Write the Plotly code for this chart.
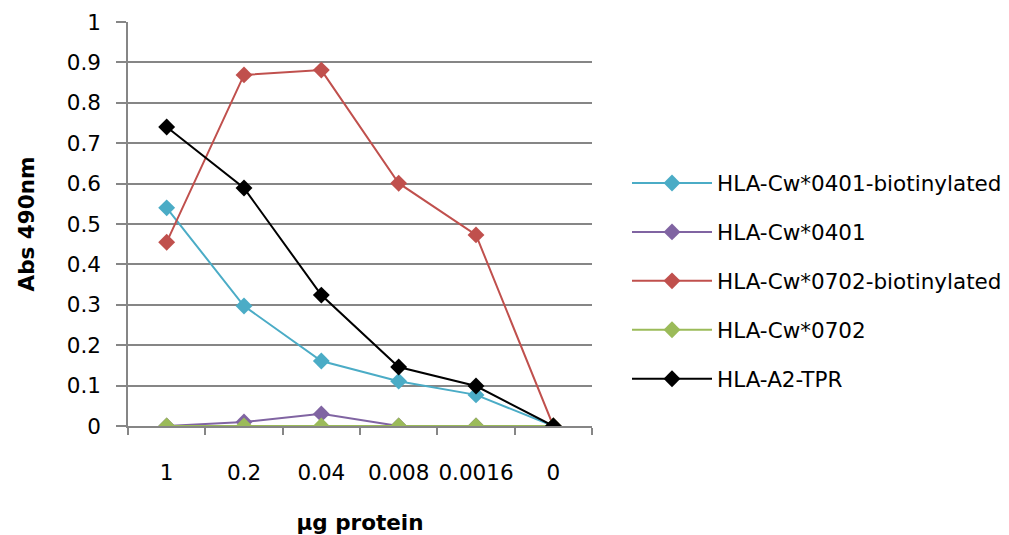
import plotly.graph_objects as go

doses = ["1", "0.2", "0.04", "0.008", "0.0016", "0"]

cw0401_biot = [0.54, 0.297, 0.161, 0.111, 0.077, 0.0]
cw0401 = [0.0, 0.01, 0.03, 0.0, 0.0, 0.0]
cw0702_biot = [0.455, 0.869, 0.881, 0.601, 0.473, 0.0]
cw0702 = [0.0, 0.0, 0.0, 0.0, 0.0, 0.0]
a2_tpr = [0.74, 0.589, 0.324, 0.146, 0.099, 0.0]

series = [
    ("HLA-Cw*0401-biotinylated", cw0401_biot, "#4bacc6"),
    ("HLA-Cw*0401", cw0401, "#8064a2"),
    ("HLA-Cw*0702-biotinylated", cw0702_biot, "#c0504d"),
    ("HLA-Cw*0702", cw0702, "#9bbb59"),
    ("HLA-A2-TPR", a2_tpr, "#000000"),
]

FONT = "'DejaVu Sans', sans-serif"
FS = 21.5

fig = go.Figure()
for i, (name, vals, color) in enumerate(series):
    fig.add_trace(go.Scatter(
        x=doses, y=vals, name=name, mode="lines+markers",
        line=dict(color=color, width=2),
        marker=dict(symbol="diamond", size=13, color=color),
        legendgroup=f"g{i}",
    ))

fig.update_layout(
    width=1009, height=535,
    margin=dict(l=128, r=417, t=22, b=109, autoexpand=False),
    paper_bgcolor="white", plot_bgcolor="white",
    font=dict(family=FONT, size=FS, color="#000000"),
    showlegend=True,
    legend=dict(
        xref="container", x=627 / 1009, y=0.359,
        xanchor="left", yanchor="middle",
        font=dict(family=FONT, size=FS, color="#000000"),
        tracegroupgap=18, itemwidth=80,
        bgcolor="rgba(0,0,0,0)",
    ),
    xaxis=dict(
        type="category", categoryorder="array", categoryarray=doses,
        range=[-0.5, 5.5], automargin=False, tickangle=0,
        showline=True, linecolor="#868686", linewidth=1.5,
        ticks="outside", tickson="boundaries", ticklen=7,
        tickcolor="#868686", tickwidth=1.5,
        showgrid=False, zeroline=False,
        tickfont=dict(family=FONT, size=FS),
        ticklabelstandoff=26,
        title=dict(text="<b>µg protein</b>", standoff=32,
                   font=dict(family=FONT, size=FS)),
    ),
    yaxis=dict(
        range=[0, 1], dtick=0.1, tickformat="~g", automargin=False,
        showline=True, linecolor="#868686", linewidth=1.5,
        ticks="outside", ticklen=10, tickcolor="#868686", tickwidth=1.5,
        showgrid=True, gridcolor="#868686", gridwidth=1.5,
        zeroline=False,
        tickfont=dict(family=FONT, size=FS),
        ticklabelstandoff=11,
        title=dict(text="<b>Abs 490nm</b>", standoff=26,
                   font=dict(family=FONT, size=FS)),
    ),
)

fig.write_html("out.html")
